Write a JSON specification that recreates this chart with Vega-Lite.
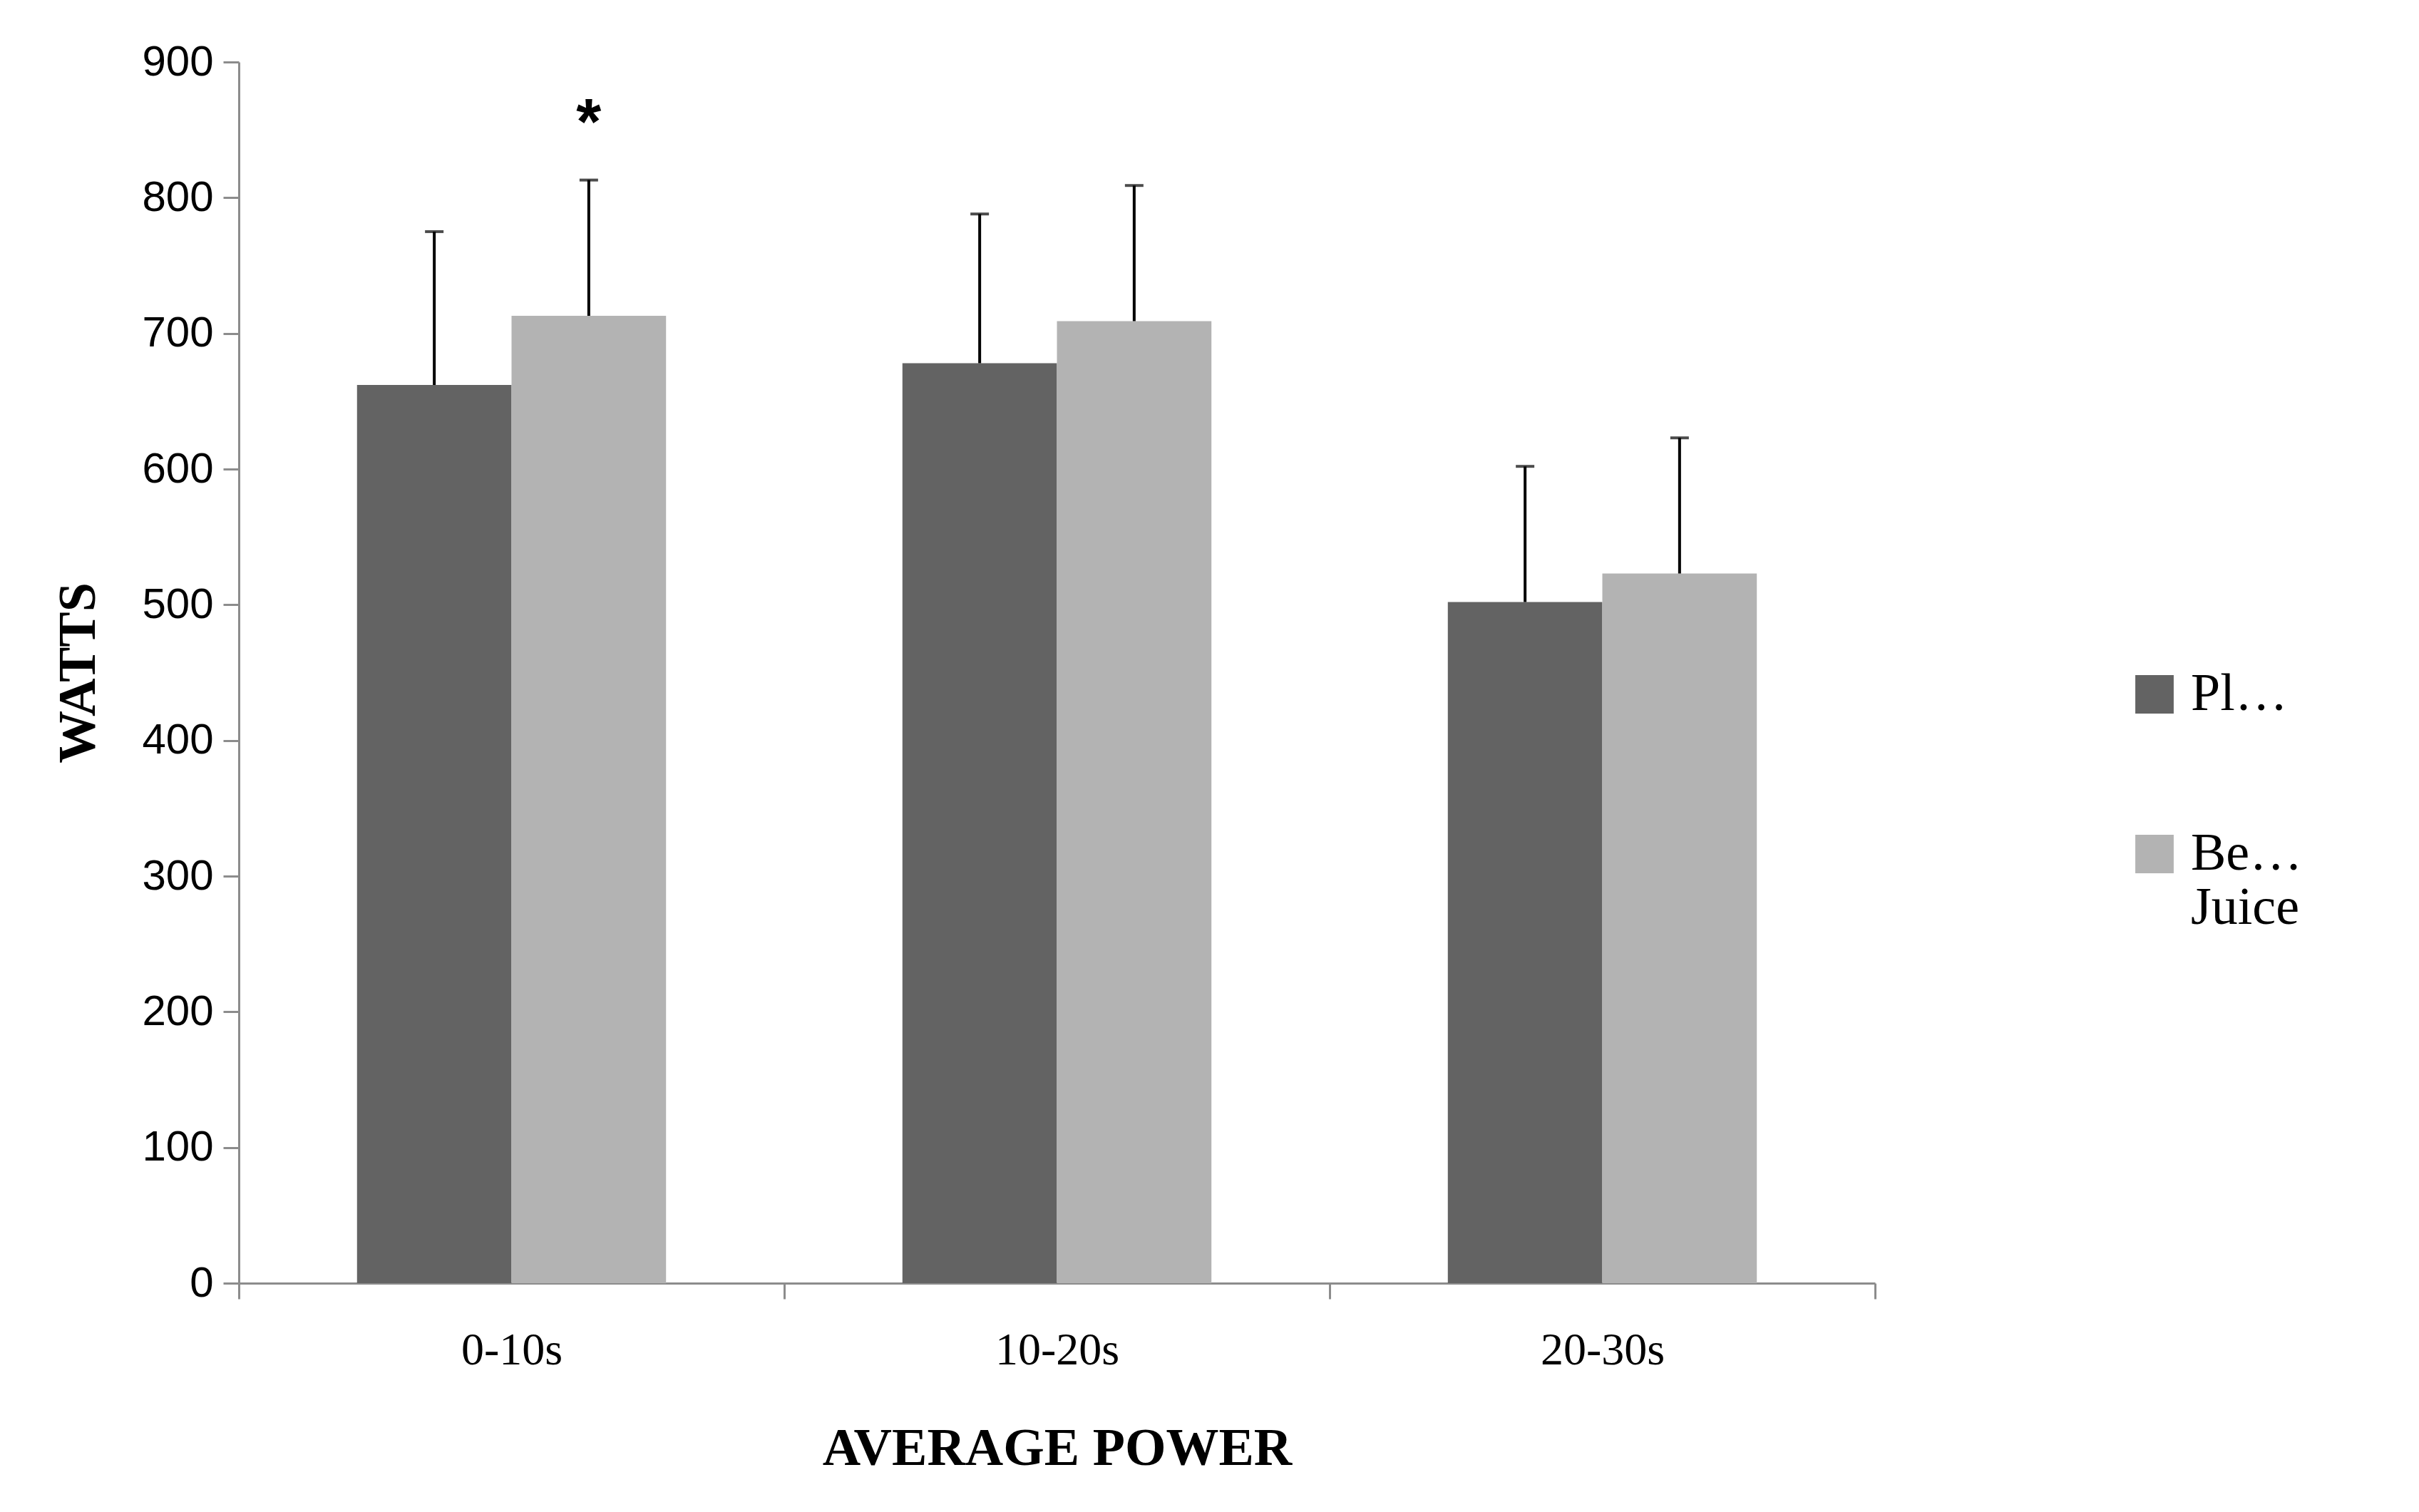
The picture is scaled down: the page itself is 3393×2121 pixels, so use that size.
{
  "$schema": "https://vega.github.io/schema/vega-lite/v6.json",
  "width": 2295,
  "height": 1713,
  "autosize": "none",
  "padding": {"left": 335, "top": 87, "right": 763, "bottom": 321},
  "background": "#ffffff",
  "view": {"stroke": null},
  "data": {
    "values": [
      {"period": "0-10s", "group": "Placebo", "watts": 662, "upper": 775, "sig": ""},
      {"period": "0-10s", "group": "Beetroot Juice", "watts": 713, "upper": 813, "sig": "*"},
      {"period": "10-20s", "group": "Placebo", "watts": 678, "upper": 788, "sig": ""},
      {"period": "10-20s", "group": "Beetroot Juice", "watts": 709, "upper": 809, "sig": ""},
      {"period": "20-30s", "group": "Placebo", "watts": 502, "upper": 602, "sig": ""},
      {"period": "20-30s", "group": "Beetroot Juice", "watts": 523, "upper": 623, "sig": ""}
    ]
  },
  "encoding": {
    "x": {
      "field": "period",
      "type": "nominal",
      "sort": null,
      "scale": {"paddingInner": 0, "paddingOuter": 0},
      "axis": {
        "title": "AVERAGE POWER",
        "titleFont": "Liberation Serif",
        "titleFontSize": 74,
        "titleFontWeight": "bold",
        "titlePadding": 70,
        "titleColor": "#000000",
        "labelFont": "Liberation Serif",
        "labelFontSize": 64,
        "labelColor": "#000000",
        "labelAngle": 0,
        "labelPadding": 40,
        "tickBand": "extent",
        "tickSize": 22,
        "tickColor": "#8c8c8c",
        "tickWidth": 3,
        "domainColor": "#8c8c8c",
        "domainWidth": 3,
        "grid": false
      }
    },
    "xOffset": {
      "field": "group",
      "sort": ["Placebo", "Beetroot Juice"],
      "scale": {"paddingInner": 0, "paddingOuter": 0.765}
    }
  },
  "layer": [
    {
      "mark": {"type": "bar"},
      "encoding": {
        "y": {
          "field": "watts",
          "type": "quantitative",
          "scale": {"domain": [0, 900]},
          "axis": {
            "title": "WATTS",
            "titleFont": "Liberation Serif",
            "titleFontSize": 74,
            "titleFontWeight": "bold",
            "titleColor": "#000000",
            "titlePadding": 50,
            "labelFont": "Liberation Sans",
            "labelFontSize": 60,
            "labelColor": "#000000",
            "labelPadding": 14,
            "values": [0, 100, 200, 300, 400, 500, 600, 700, 800, 900],
            "tickSize": 22,
            "tickColor": "#8c8c8c",
            "tickWidth": 3,
            "domainColor": "#8c8c8c",
            "domainWidth": 3,
            "grid": false
          }
        },
        "color": {
          "field": "group",
          "type": "nominal",
          "sort": ["Placebo", "Beetroot Juice"],
          "scale": {"domain": ["Placebo", "Beetroot Juice"], "range": ["#636363", "#b3b3b3"]},
          "legend": {
            "title": null,
            "orient": "none",
            "legendX": 2650,
            "legendY": 850,
            "symbolType": "square",
            "symbolSize": 2900,
            "symbolStrokeWidth": 0,
            "labelFont": "Liberation Serif",
            "labelFontSize": 74,
            "labelColor": "#000000",
            "labelExpr": "split(datum.label, ' ')",
            "rowPadding": 150,
            "labelOffset": 14
          }
        }
      }
    },
    {
      "mark": {"type": "rule", "color": "#000000", "strokeWidth": 4},
      "encoding": {
        "y": {"field": "watts", "type": "quantitative"},
        "y2": {"field": "upper"}
      }
    },
    {
      "mark": {"type": "tick", "color": "#000000", "thickness": 4, "size": 26},
      "encoding": {
        "y": {"field": "upper", "type": "quantitative"}
      }
    },
    {
      "mark": {"type": "text", "font": "Liberation Sans", "fontSize": 90, "fontWeight": "bold", "baseline": "middle", "dy": 12},
      "encoding": {
        "y": {"datum": 860, "type": "quantitative"},
        "text": {"field": "sig"}
      }
    }
  ]
}
